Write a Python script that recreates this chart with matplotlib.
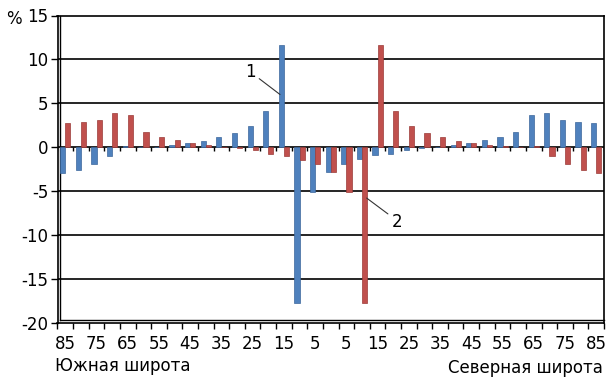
import numpy as np
import matplotlib
matplotlib.use('Agg')
import matplotlib.pyplot as plt

plt.rcParams['font.family'] = ['DejaVu Sans']

# latitude bands: 85S ... 5S, equator, 5N ... 85N
lat_south = [85, 80, 75, 70, 65, 60, 55, 50, 45, 40, 35, 30, 25, 20, 15, 10, 5]
lat_north = [5, 10, 15, 20, 25, 30, 35, 40, 45, 50, 55, 60, 65, 70, 75, 80, 85]

# series 1 (blue) and series 2 (red), %
blue_south = [-2.9, -2.6, -1.9, -1.0, 0.1, 0.05, 0.03, 0.25, 0.5, 0.7, 1.15, 1.65, 2.4, 4.15, 11.65, -17.7, -5.1]
red_south = [2.75, 2.9, 3.1, 3.85, 3.7, 1.75, 1.15, 0.8, 0.5, 0.25, 0.05, -0.05, -0.3, -0.8, -1.05, -1.5, -1.9]
blue_eq = -2.8
red_eq = -2.8
blue_north = [-1.9, -1.4, -0.95, -0.75, -0.3, -0.05, 0.05, 0.25, 0.5, 0.8, 1.15, 1.75, 3.7, 3.85, 3.1, 2.9, 2.75]
red_north = [-5.1, -17.7, 11.65, 4.15, 2.4, 1.65, 1.15, 0.7, 0.5, 0.25, 0.1, 0.05, 0.1, -1.0, -1.9, -2.6, -2.9]


def main():
    labels = [str(v) for v in lat_south] + ['0'] + [str(v) for v in lat_north]
    blue = np.array(blue_south + [blue_eq] + blue_north)
    red = np.array(red_south + [red_eq] + red_north)
    n = len(labels)
    x = np.arange(n)

    fig = plt.figure(figsize=(6.14, 3.86), dpi=100)
    ax = fig.add_axes([57.5 / 614, 1 - 322.7 / 386, 546.5 / 614, 307.2 / 386])

    w = 0.33
    ax.bar(x - w / 2, blue, width=w, color='#4F81BD', edgecolor='#3C679B', linewidth=0.5, zorder=3)
    ax.bar(x + w / 2, red, width=w, color='#C0504D', edgecolor='#9B3B38', linewidth=0.5, zorder=3)

    ax.set_xlim(-0.5, n - 0.5)
    ax.set_ylim(-20, 15)

    # horizontal grid
    yt = np.arange(-20, 16, 5)
    for y in yt[1:-1]:
        ax.axhline(y, color='black', lw=1.2, zorder=1)

    # little ticks hanging below the zero line
    bounds = np.arange(-0.5, n, 1)
    ax.vlines(bounds, -0.4, 0, color='black', lw=1.0, zorder=2)

    ax.set_yticks(yt)
    ax.set_yticklabels([str(v) for v in yt], fontsize=12)
    ax.tick_params(axis='y', direction='out', length=5, width=1, pad=1.5)

    ax.set_xticks(bounds, minor=True)
    ax.set_xticks(x[::2])
    ax.set_xticklabels(labels[::2], fontsize=12)
    ax.tick_params(axis='x', which='major', length=0, pad=9)
    ax.tick_params(axis='x', which='minor', direction='out', length=4, width=1)

    for s in ax.spines.values():
        s.set_color('black')
        s.set_linewidth(1.2)

    # 3D wall look: inner left and floor lines
    ax.plot([0.0046, 0.0046], [0.009, 1], transform=ax.transAxes, color='black', lw=1.0, clip_on=False)
    ax.plot([0.0046, 1], [0.009, 0.009], transform=ax.transAxes, color='black', lw=1.0, clip_on=False)

    fig.text(14 / 614, 1 - 19 / 386, '%', fontsize=12, ha='center', va='center')
    fig.text(55 / 614, 1 - 366 / 386, 'Южная широта', fontsize=12, ha='left', va='center')
    fig.text(603 / 614, 1 - 368 / 386, 'Северная широта', fontsize=12, ha='right', va='center')

    ax.annotate('1', xy=(13.75, 6.0), xytext=(11.83, 8.55), fontsize=12, ha='center', va='center',
                arrowprops=dict(arrowstyle='-', lw=0.8, color='#333333', shrinkA=1, shrinkB=0, relpos=(1, 0.3)))
    ax.annotate('2', xy=(19.3, -5.8), xytext=(21.25, -8.55), fontsize=12, ha='center', va='center',
                arrowprops=dict(arrowstyle='-', lw=0.8, color='#333333', shrinkA=1, shrinkB=0, relpos=(0, 0.8)))

    fig.savefig('out.png', dpi=100)


if __name__ == '__main__':
    main()
